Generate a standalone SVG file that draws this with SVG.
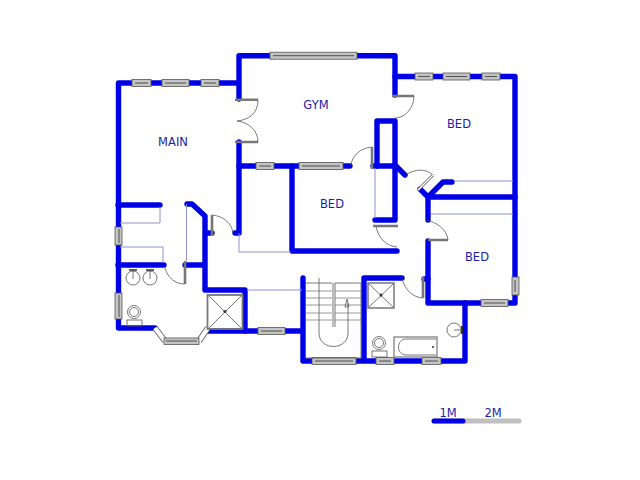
<svg xmlns="http://www.w3.org/2000/svg" width="640" height="480" viewBox="0 0 640 480">
<style>
.w{fill:none;stroke:#0000e6;stroke-width:5.400;stroke-linejoin:round;stroke-linecap:round}
.t{fill:none;stroke:#8f8fd0;stroke-width:1}
.a{fill:none;stroke:#444;stroke-width:.7}
.l{fill:none;stroke:#777;stroke-width:2.600}
.f{fill:none;stroke:#555;stroke-width:.8}
.g{fill:none;stroke:#999;stroke-width:1}
.win{fill:#c4c4c4;stroke:#555;stroke-width:.8}
.lab{font-family:"DejaVu Sans",sans-serif;font-size:11.500px;fill:#1c1ca8;text-anchor:middle}
</style>
<g id="connectors">
<path class="w" d="M237 83H118.500V328H155"/>
<path class="w" d="M239 99V55.700H395V95M239 142V233H235"/>
<path class="w" d="M395 76.500H515V303H428V241"/>
<path class="w" d="M239 166H350M373 166H395"/>
<path class="w" d="M395 121V220H375M395 121H377V166"/>
<path class="w" d="M396 166L405 175M420 189L428 197L443 182H452M428 197V220M428 197H515"/>
<path class="w" d="M292 166V251H397"/>
<path class="w" d="M118 205H160M118 265H164M187 204H192L205 216V290H245V331H302M185 265H205M205 233H212"/>
<path class="w" d="M245 331H208"/>
<path class="w" d="M303 278V361H465V303M364 361V278H402M424 279H428"/>
</g>
<g id="thin">
<path class="t" d="M120 223H160V207M120 247H163V263M186.500 204V261M239 233V252H291M247 290H302M375 168V218M454 181H513M431 214H513"/>
</g>
<g id="windows">
<g class="win">
<rect x="132" y="79.500" width="19" height="7"/><rect x="162" y="79.500" width="27" height="7"/><rect x="201" y="79.500" width="18" height="7"/>
<rect x="270" y="52.200" width="87" height="7"/>
<rect x="415" y="73" width="18" height="7"/><rect x="443" y="73" width="27" height="7"/><rect x="482" y="73" width="18" height="7"/>
<rect x="256" y="162.500" width="18" height="7"/><rect x="299" y="162.500" width="44" height="7"/>
<rect x="115" y="227" width="7" height="18"/><rect x="115" y="293" width="7" height="26"/>
<rect x="258" y="327.500" width="27" height="7"/>
<rect x="312" y="357.500" width="44" height="7"/><rect x="376" y="357.500" width="18" height="7"/><rect x="422" y="357.500" width="19" height="7"/>
<rect x="481" y="299.500" width="27" height="7"/><rect x="512" y="277" width="7" height="18"/>
</g>
<path d="M155 328L165 341M199 341L208 328" fill="none" stroke="#555" stroke-width="6"/>
<path d="M155 328L165 341M199 341L208 328" fill="none" stroke="#fff" stroke-width="4.400"/>
<rect class="win" x="164" y="338" width="35" height="6.500" fill="#e8e8e8"/>
<path d="M119 229V243M119 295V317M135 83H148M165 83H186M204 83H216M273 55.700H354M418 76.500H430M446 76.500H467M485 76.500H497M259 166H271M302 166H340M261 331H282M315 361H353M379 361H391M425 361H438M484 303H505M515 280V292M166 341H197" stroke="#333" stroke-width=".8" fill="none"/>
</g>
<g id="doors">
<path class="a" d="M258 100C258 114 248 120 237 121M258 142C258 130 248 122 237 121M414 96C414 108 405 118 395 118M372 147C360 148 352 156 351 165M405 175C415 169 425 168 433 175M212 215C224 216 232 224 233 233M165 268C168 278 175 284 185 284M376 226C378 238 386 246 397 247"/>
<path class="a" d="M426 220C436 222 447 229 448 240M402 278C405 290 412 297 423 298"/>
<path class="l" d="M235 99.700H258M235 142H258M392 96H414M372 147V169M373 226H398M428 240H448M212 215V236M185 261V284M423 277V298"/>
<path d="M433 175L418 190" stroke="#666" stroke-width="3" fill="none"/>
<path d="M433 175L418 190" stroke="#fff" stroke-width="1.500" fill="none"/>
</g>
<g id="fixtures">
<rect x="207.500" y="295" width="35" height="34" fill="none" stroke="#777" stroke-width="1.800"/><path class="f" d="M209 296L241 328M241 296L209 328"/><circle cx="225" cy="311.500" r="1.500" fill="#333"/>
<rect x="368" y="283" width="26" height="25" fill="none" stroke="#777" stroke-width="1.500"/><path class="f" d="M369 284L393 307M393 284L369 307"/><circle cx="381" cy="295" r="1.500" fill="#333"/>
<circle class="f" cx="133" cy="278" r="7"/><circle class="f" cx="150" cy="278" r="7"/>
<path d="M129 270H137M146 270H154" stroke="#333" stroke-width="1.500"/><path class="f" d="M133 271V279M150 271V279"/>
<circle class="f" cx="134" cy="312" r="6.500"/><circle class="f" cx="134" cy="312" r="4.500"/><rect class="f" x="127" y="320" width="15" height="6"/>
<circle class="f" cx="379" cy="343" r="6.500"/><circle class="f" cx="379" cy="343" r="4.500"/><rect class="f" x="372" y="351" width="15" height="6"/>
<rect x="394" y="337" width="43" height="20" fill="none" stroke="#777" stroke-width="1.200"/><path class="f" d="M436 339H406C396 339 396 355 406 355H436"/><circle cx="433" cy="347" r="1" fill="#333"/>
<circle class="f" cx="454" cy="330" r="7"/><path d="M462 326V334" stroke="#333" stroke-width="2"/><path class="f" d="M454 330H462"/>
<path class="g" d="M306 291H332M335 291H361M306 298H332M335 298H361M306 305H332M335 305H361M306 313H332M335 313H361M306 320H332M335 320H361"/>
<path class="f" d="M305.500 283H332M335 283H361M319 278V333C319 351 348 351 348 333V303M361 283V358M306 358H361M333 283V327M335 283V327M345 307L347 299L349 307Z"/>
</g>
<g id="labels">
<text class="lab" x="173" y="146">MAIN</text>
<text class="lab" x="316" y="109">GYM</text>
<text class="lab" x="459" y="128">BED</text>
<text class="lab" x="332" y="208">BED</text>
<text class="lab" x="477" y="261">BED</text>
<text class="lab" x="448" y="417">1M</text>
<text class="lab" x="493" y="417">2M</text>
</g>
<g id="scale">
<path d="M434 421H519" stroke="#c0c0c0" stroke-width="5" stroke-linecap="round"/>
<path d="M434 421H463" stroke="#0000e6" stroke-width="5" stroke-linecap="round"/>
</g>
</svg>
